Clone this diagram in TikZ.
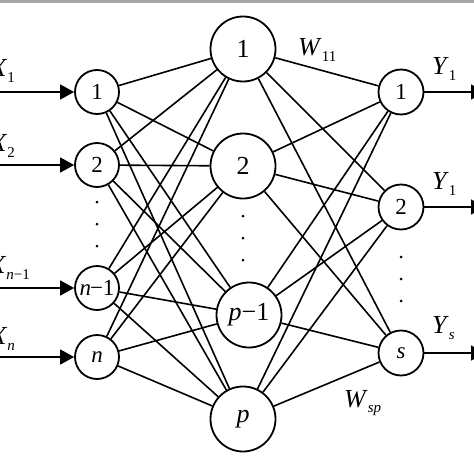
\documentclass[tikz,border=0pt]{standalone}
\usepackage{fontspec}
\setmainfont{Liberation Serif}
\usetikzlibrary{arrows.meta}
\newcommand{\lbl}[2]{\textit{#1}\raisebox{-0.45ex}{\fontsize{15}{16}\selectfont #2}}
\begin{document}
\begin{tikzpicture}[x=1pt,y=-1pt,
  nn/.style={circle,draw,line width=1.8pt,fill=white,inner sep=0pt,font=\fontsize{23}{25}\selectfont},
  inn/.style={nn,minimum size=44pt},
  hid/.style={nn,minimum size=65pt,font=\fontsize{26}{28}\selectfont},
  outn/.style={nn,minimum size=45pt},
  link/.style={line width=1.6pt},
  io/.style={line width=1.6pt,-{Triangle[length=14pt,width=15pt]}},
  lab/.style={font=\fontsize{26}{28}\selectfont,inner sep=0pt},
  dotn/.style={circle,fill,inner sep=0pt,minimum size=3pt}]
\useasboundingbox (0,0) rectangle (474,474);
\clip (0,0) rectangle (474,474);
\fill[gray!70] (0,0) rectangle (474,2.5);
% input layer
\node[inn] (i1) at (97,92) {1};
\node[inn] (i2) at (97,165) {2};
\node[inn] (i3) at (97,288) {\textit{n}\kern-1pt−1};
\node[inn] (i4) at (97,357) {\textit{n}};
% hidden layer
\node[hid] (h1) at (243,49) {1};
\node[hid] (h2) at (243,166) {2};
\node[hid] (h3) at (249,315) {\textit{p}−1};
\node[hid] (h4) at (243,419) {\textit{p}};
% output layer
\node[outn] (o1) at (401,92) {1};
\node[outn] (o2) at (401,207) {2};
\node[outn] (o3) at (401,353) {\textit{s}};
% links
\foreach \a in {i1,i2,i3,i4}
  \foreach \b in {h1,h2,h3,h4}
    \draw[link] (\a) -- (\b);
\foreach \a in {h1,h2,h3,h4}
  \foreach \b in {o1,o2,o3}
    \draw[link] (\a) -- (\b);
% inputs
\coordinate (x1) at (0,92);
\coordinate (x2) at (0,165);
\coordinate (x3) at (0,288);
\coordinate (x4) at (0,357);
\draw[io] (x1) -- (i1);
\draw[io] (x2) -- (i2);
\draw[io] (x3) -- (i3);
\draw[io] (x4) -- (i4);
% outputs
\coordinate (y1) at (485,92);
\coordinate (y2) at (485,207);
\coordinate (y3) at (485,353);
\draw[io] (o1) -- (y1);
\draw[io] (o2) -- (y2);
\draw[io] (o3) -- (y3);
% labels
\node[lab,anchor=east] (lx1) at (15,71) {\lbl{X}{1}};
\node[lab,anchor=east] (lx2) at (15,146) {\lbl{X}{2}};
\node[lab,anchor=east] (lx3) at (30,268) {\lbl{X}{\textit{n}−1}};
\node[lab,anchor=east] (lx4) at (15,339) {\lbl{X}{\textit{n}}};
\node[lab,anchor=west] (ly1) at (432,69) {\lbl{Y}{1}};
\node[lab,anchor=west] (ly2) at (432,184) {\lbl{Y}{1}};
\node[lab,anchor=west] (ly3) at (432,328) {\lbl{Y}{\textit{s}}};
\node[lab,anchor=west] (w11) at (298,50) {\lbl{W}{11}};
\node[lab,anchor=west] (wsp) at (344,403) {\lbl{W}{\textit{sp}}};
% dots
\foreach \y [count=\k] in {202,224,246} \node[dotn] (di\k) at (97,\y) {};
\foreach \y [count=\k] in {216,238,260} \node[dotn] (dh\k) at (243,\y) {};
\foreach \y [count=\k] in {257,279,301} \node[dotn] (do\k) at (401,\y) {};
\end{tikzpicture}
\end{document}
